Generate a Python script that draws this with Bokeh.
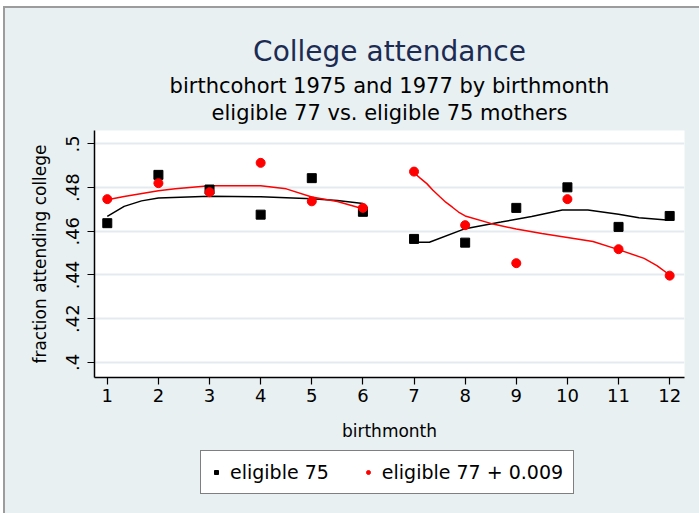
from bokeh.plotting import figure
from bokeh.layouts import column
from bokeh.models import Title, Range1d, FixedTicker, CustomJSTickFormatter, Legend, LegendItem
from bokeh.embed import file_html
from bokeh.resources import INLINE

# ---- data ----
months = [1, 2, 3, 4, 5, 6, 7, 8, 9, 10, 11, 12]
elig75 = [0.4637, 0.4858, 0.4791, 0.4676, 0.4843, 0.4689, 0.4565, 0.4548, 0.4707, 0.4801, 0.4620, 0.4670]
elig77 = [0.4747, 0.4820, 0.4779, 0.4913, 0.4737, 0.4707, 0.4873, 0.4628, 0.4454, 0.4747, 0.4518, 0.4397]

fit75_a_x = [1, 1.33, 1.67, 2, 3, 4, 5, 5.5, 6]
fit75_a_y = [0.4668, 0.4714, 0.4739, 0.4752, 0.4760, 0.4758, 0.4749, 0.4741, 0.4727]
fit77_a_x = [1, 1.33, 2, 2.33, 3, 4, 4.5, 5, 5.5, 6]
fit77_a_y = [0.4744, 0.4759, 0.4785, 0.4794, 0.4808, 0.4808, 0.4794, 0.4757, 0.4736, 0.4703]

fit75_b_x = [7, 7.3, 8, 8.7, 9.3, 9.9, 10.4, 11, 11.4, 12]
fit75_b_y = [0.4550, 0.4550, 0.4612, 0.4642, 0.4668, 0.4697, 0.4697, 0.4678, 0.4662, 0.4650]
fit77_b_x = [7, 7.12, 7.25, 7.37, 7.5, 7.62, 7.75, 7.87, 8, 8.5, 9, 9.5, 10, 10.5, 11, 11.5, 11.75, 12]
fit77_b_y = [0.4868, 0.4843, 0.4818, 0.4788, 0.4759, 0.4733, 0.4710, 0.4688, 0.4670, 0.4636, 0.4610, 0.4590,
             0.4572, 0.4553, 0.4516, 0.4476, 0.4443, 0.4400]

y_ticks = [0.4, 0.42, 0.44, 0.46, 0.48, 0.5]

title_main = "College attendance"
subtitle1 = "birthcohort 1975 and 1977 by birthmonth"
subtitle2 = "eligible 77 vs. eligible 75 mothers"
xlabel = "birthmonth"
ylabel = "fraction attending college"
legend_labels = ["eligible 75", "eligible 77 + 0.009"]

FONT = "DejaVu Sans"
BG = "#e8f0f2"
W = 694

p = figure(output_backend="svg", toolbar_location=None,
           width=W, height=440,
           min_border_left=89, min_border_right=15, min_border_top=122, min_border_bottom=71,
           x_range=Range1d(0.75, 12.29), y_range=Range1d(0.3931, 0.5061),
           background_fill_color="white", border_fill_color=BG)
p.outline_line_color = None

# titles (first added = closest to plot)
p.add_layout(Title(text=subtitle2, align="center", text_font=FONT, text_font_size="21px",
                   text_font_style="normal", text_color="black", standoff=11), "above")
p.add_layout(Title(text=subtitle1, align="center", text_font=FONT, text_font_size="21px",
                   text_font_style="normal", text_color="black", standoff=-8), "above")
p.add_layout(Title(text=title_main, align="center", text_font=FONT, text_font_size="28px",
                   text_font_style="normal", text_color="#1c2b52", standoff=16), "above")

# axes
p.xaxis.ticker = FixedTicker(ticks=months)
p.yaxis.ticker = FixedTicker(ticks=y_ticks)
p.yaxis.formatter = CustomJSTickFormatter(code="""
    let s = tick.toFixed(2).replace(/0+$/, '');
    return s.replace(/^0/, '');
""")
for ax in (p.xaxis[0], p.yaxis[0]):
    ax.axis_line_color = "black"
    ax.axis_line_width = 1.5
    ax.major_tick_line_color = "black"
    ax.major_tick_line_width = 1.2
    ax.major_tick_out = 7
    ax.major_tick_in = 0
    ax.minor_tick_line_color = None
    ax.major_label_text_font = FONT
    ax.major_label_text_font_size = "18px"
    ax.major_label_text_color = "black"
    ax.axis_label_text_font = FONT
    ax.axis_label_text_font_size = "17px"
    ax.axis_label_text_font_style = "normal"
    ax.axis_label_text_color = "black"
p.xaxis.axis_label = xlabel
p.yaxis.axis_label = ylabel
p.yaxis.major_label_orientation = "vertical"
p.xaxis.major_label_standoff = 4
p.yaxis.major_label_standoff = 8
p.xaxis.axis_label_standoff = 16
p.yaxis.axis_label_standoff = 14

p.xgrid.grid_line_color = None
p.ygrid.grid_line_color = "#e3ebef"
p.ygrid.grid_line_width = 2

# fitted lines
p.line(fit75_a_x, fit75_a_y, line_color="black", line_width=1.5)
p.line(fit75_b_x, fit75_b_y, line_color="black", line_width=1.5)
p.line(fit77_a_x, fit77_a_y, line_color="red", line_width=1.5)
p.line(fit77_b_x, fit77_b_y, line_color="red", line_width=1.5)

# points
p.scatter(months, elig75, marker="square", size=9, fill_color="black", line_color="black")
p.scatter(months, elig77, marker="circle", size=9, fill_color="red", line_color="red")

# legend strip (separate canvas so the legend box is not clipped by the plot frame)
q = figure(output_backend="svg", toolbar_location=None, width=W, height=65,
           min_border=0, x_axis_location=None, y_axis_location=None,
           x_range=Range1d(-10, 0), y_range=Range1d(0, 1),
           background_fill_color=BG, border_fill_color=BG)
q.outline_line_color = None
q.grid.grid_line_color = None
l75 = q.scatter(months, elig75, marker="square", size=9, fill_color="black", line_color="black")
l77 = q.scatter(months, elig77, marker="circle", size=9, fill_color="red", line_color="red")
legend = Legend(items=[LegendItem(label=legend_labels[0], renderers=[l75]),
                       LegendItem(label=legend_labels[1], renderers=[l77])],
                orientation="horizontal", location=(106, 19),
                label_text_font=FONT, label_text_font_size="19px", label_text_color="black",
                glyph_width=10, glyph_height=10, label_standoff=9, spacing=34,
                padding=10, margin=0,
                border_line_color="black", border_line_width=1.5,
                background_fill_color="white", background_fill_alpha=1)
q.add_layout(legend)

layout = column(p, q, spacing=0,
                styles={"margin-left": "3px", "margin-top": "6px", "background-color": BG,
                        "border-left": "2px solid #9c9c9c", "border-top": "2px solid #9c9c9c"})

open("out.html", "w").write(file_html(layout, INLINE))
